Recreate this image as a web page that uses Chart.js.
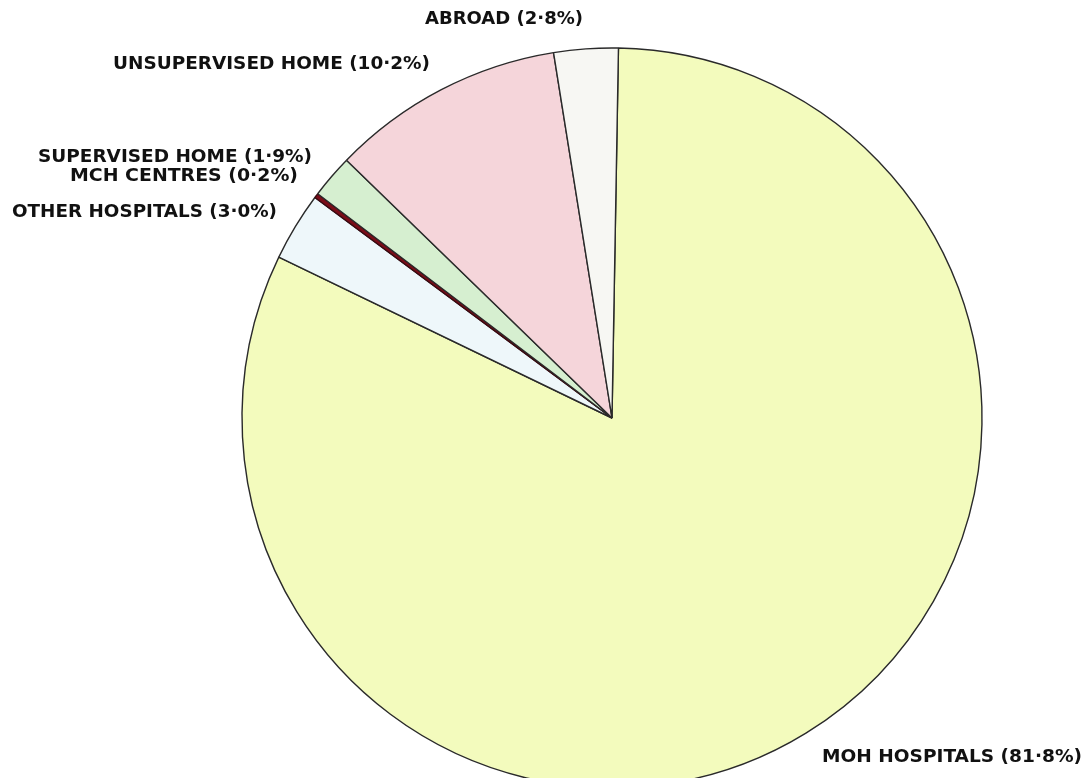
<!DOCTYPE html>
<html>
<head>
<meta charset="utf-8">
<script src="https://cdn.jsdelivr.net/npm/chart.js@4/dist/chart.umd.min.js"></script>
<style>
  html, body { margin: 0; padding: 0; background: #ffffff; overflow: hidden; width: 1085px; height: 778px; }
  #wrap { position: absolute; left: 0; top: 0; width: 1085px; height: 820px; }
</style>
</head>
<body>
<div id="wrap"><canvas id="c" width="1085" height="820"></canvas></div>
<script>
// ---- data ----
const categories = ['MOH HOSPITALS', 'OTHER HOSPITALS', 'MCH CENTRES', 'SUPERVISED HOME', 'UNSUPERVISED HOME', 'ABROAD'];
const percentages = [81.8, 3.0, 0.2, 1.9, 10.2, 2.8];
const percentLabels = ['81·8%', '3·0%', '0·2%', '1·9%', '10·2%', '2·8%'];
const sliceColors = ['#f3fbbd', '#eef7fa', '#7a0d18', '#d6efd0', '#f5d5da', '#f7f7f3'];

// label placement (left x, middle y, target width) for each category
const labelBoxes = [
  [822, 758, 260],
  [12, 213, 265],
  [70, 177, 228],
  [38, 158, 274],
  [113, 65, 317],
  [425, 20, 158]
];

const labelPlugin = {
  id: 'fixedLabels',
  afterDraw(chart) {
    const ctx = chart.ctx;
    ctx.save();
    ctx.fillStyle = '#111111';
    ctx.textBaseline = 'middle';
    ctx.textAlign = 'left';
    ctx.font = 'bold 17px "DejaVu Sans Condensed", "DejaVu Sans", sans-serif';
    categories.forEach((cat, i) => {
      const text = cat + ' (' + percentLabels[i] + ')';
      const [x, y, w] = labelBoxes[i];
      const m = ctx.measureText(text).width;
      ctx.save();
      ctx.translate(x, y);
      ctx.scale(w / m, 1);
      ctx.fillText(text, 0, 0);
      ctx.restore();
    });
    ctx.restore();
  }
};

new Chart(document.getElementById('c'), {
  type: 'pie',
  data: {
    labels: categories,
    datasets: [{
      data: percentages,
      backgroundColor: sliceColors,
      borderColor: ['#2a2a2a', '#2a2a2a', '#3a0a10', '#2a2a2a', '#2a2a2a', '#2a2a2a'],
      borderWidth: 1.4,
      borderAlign: 'center'
    }]
  },
  options: {
    responsive: false,
    animation: false,
    rotation: 1,
    radius: 370,
    layout: { padding: { left: 242, right: 103, top: 48, bottom: 32 } },
    plugins: {
      legend: { display: false },
      tooltip: { enabled: false },
      title: { display: false }
    }
  },
  plugins: [labelPlugin]
});
</script>
</body>
</html>
